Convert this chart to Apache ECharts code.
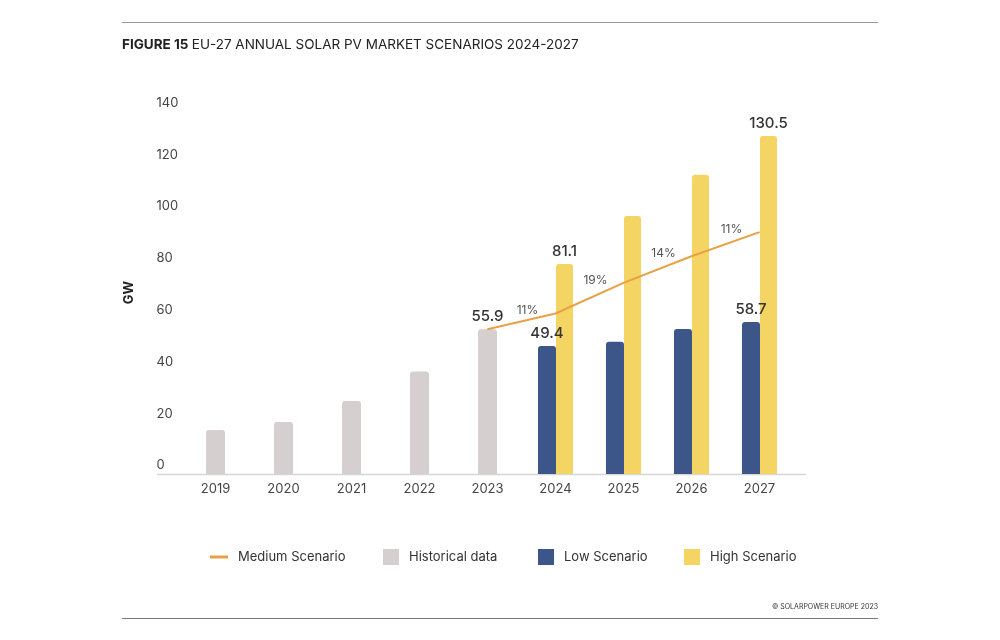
<!DOCTYPE html>
<html>
<head>
<meta charset="utf-8">
<script src="https://cdn.jsdelivr.net/npm/echarts@6/dist/echarts.min.js"></script>
<style>
html,body{margin:0;padding:0;background:#fff}
#chart{width:1000px;height:640px}
</style>
</head>
<body>
<div id="chart"></div>
<script>
var years = ['2019', '2020', '2021', '2022', '2023', '2024', '2025', '2026', '2027'];
var historical = [17.0, 20.1, 28.2, 39.6, 55.9, null, null, null, null];
var lowScenario = [null, null, null, null, null, 49.4, 51.1, 56.0, 58.7];
var highScenario = [null, null, null, null, null, 81.1, 99.6, 115.6, 130.5];
var mediumScenario = [null, null, null, null, 55.9, 62.0, 73.8, 84.1, 93.4];
var growthLabels = ['', '', '', '', '', '11%', '19%', '14%', '11%'];
var labelledYears = ['2023', '2024', '2027'];
var yTicks = [0, 140, 20];

var colHist = '#d5d0cf', colLow = '#3d5689', colHigh = '#f4d462', colMed = '#e8a145';
var fontFam = 'Inter, "Noto Sans", sans-serif';

var domChart = document.getElementById('chart');
var chart = echarts.init(domChart, null, {renderer: 'canvas'});

function valueLabel(p) {
    return labelledYears.indexOf(p.name) >= 0 && p.value != null ? p.value.toFixed(1) : '';
}
var barLabel = {
    show: true,
    position: 'top',
    distance: 5,
    color: '#333',
    fontSize: 15,
    fontWeight: 500,
    fontFamily: fontFam,
    formatter: valueLabel
};

function legendAt(name, left, top, w, h) {
    return {
        data: [name],
        left: left,
        top: top,
        icon: 'rect',
        itemWidth: w,
        itemHeight: h,
        textStyle: {color: '#333', fontSize: 13, fontFamily: fontFam, padding: [0, 0, 0, 5]}
    };
}

var option = {
    backgroundColor: '#fff',
    animation: false,
    textStyle: {fontFamily: fontFam},
    grid: {left: 181.5, right: 206.5, top: 111.5, bottom: 166},
    legend: [
        legendAt('Medium Scenario', 205, 545.5, 18, 3),
        legendAt('Historical data', 378, 544, 16, 16),
        legendAt('Low Scenario', 533, 544, 16, 16),
        legendAt('High Scenario', 679, 544, 16, 16)
    ],
    xAxis: [
        {
            type: 'category',
            data: years,
            axisLine: {show: false},
            axisTick: {show: false},
            axisLabel: {color: '#444', fontSize: 13, margin: 9, fontFamily: fontFam}
        },
        {
            type: 'category',
            data: years,
            show: false
        }
    ],
    yAxis: {
        type: 'value',
        min: yTicks[0],
        max: yTicks[1],
        interval: yTicks[2],
        name: 'GW',
        nameLocation: 'middle',
        nameGap: 46,
        nameRotate: 90,
        nameTextStyle: {color: '#222', fontSize: 13, fontWeight: 'bold', fontFamily: fontFam},
        axisLine: {show: false},
        axisTick: {show: false},
        splitLine: {show: false},
        axisLabel: {
            color: '#444',
            fontSize: 13,
            align: 'left',
            margin: 25,
            verticalAlign: 'bottom',
            padding: [0, 0, 2, 0],
            fontFamily: fontFam
        }
    },
    series: [
        {
            name: 'Historical data',
            type: 'bar',
            xAxisIndex: 1,
            barWidth: 19,
            itemStyle: {color: colHist, borderRadius: [3, 3, 0, 0]},
            label: barLabel,
            data: historical
        },
        {
            name: 'Low Scenario',
            type: 'bar',
            barWidth: 18,
            barGap: '0%',
            itemStyle: {color: colLow, borderRadius: [3, 3, 0, 0]},
            label: barLabel,
            data: lowScenario
        },
        {
            name: 'High Scenario',
            type: 'bar',
            barWidth: 17,
            barGap: '0%',
            itemStyle: {color: colHigh, borderRadius: [3, 3, 0, 0]},
            label: barLabel,
            data: highScenario
        },
        {
            name: 'Medium Scenario',
            type: 'line',
            z: 5,
            symbol: 'circle',
            symbolSize: 1,
            lineStyle: {color: colMed, width: 2},
            itemStyle: {color: colMed},
            label: {
                show: true,
                position: 'inside',
                offset: [-28, -3],
                color: '#555',
                fontSize: 12,
                fontFamily: fontFam,
                formatter: function (p) { return growthLabels[p.dataIndex]; }
            },
            data: mediumScenario
        }
    ],
    graphic: [
        {type: 'line', shape: {x1: 122, y1: 22.5, x2: 878, y2: 22.5}, style: {stroke: '#999', lineWidth: 1}},
        {type: 'line', shape: {x1: 122, y1: 618.5, x2: 878, y2: 618.5}, style: {stroke: '#777', lineWidth: 1}},
        {type: 'line', shape: {x1: 157, y1: 474.5, x2: 806, y2: 474.5}, style: {stroke: '#d6d6d6', lineWidth: 1.5}, z: 0},
        {
            type: 'text',
            left: 122,
            top: 38,
            style: {
                text: '{b|FIGURE 15} {n|EU-27 ANNUAL SOLAR PV MARKET SCENARIOS 2024-2027}',
                rich: {
                    b: {fontSize: 13.5, fontWeight: 'bold', fill: '#222', fontFamily: fontFam},
                    n: {fontSize: 13.5, fill: '#222', fontFamily: fontFam}
                }
            }
        },
        {
            type: 'text',
            right: 122,
            top: 603,
            style: {text: '© SOLARPOWER EUROPE 2023', fontSize: 7, fill: '#333', fontFamily: fontFam}
        }
    ]
};
chart.setOption(option);
</script>
</body>
</html>
